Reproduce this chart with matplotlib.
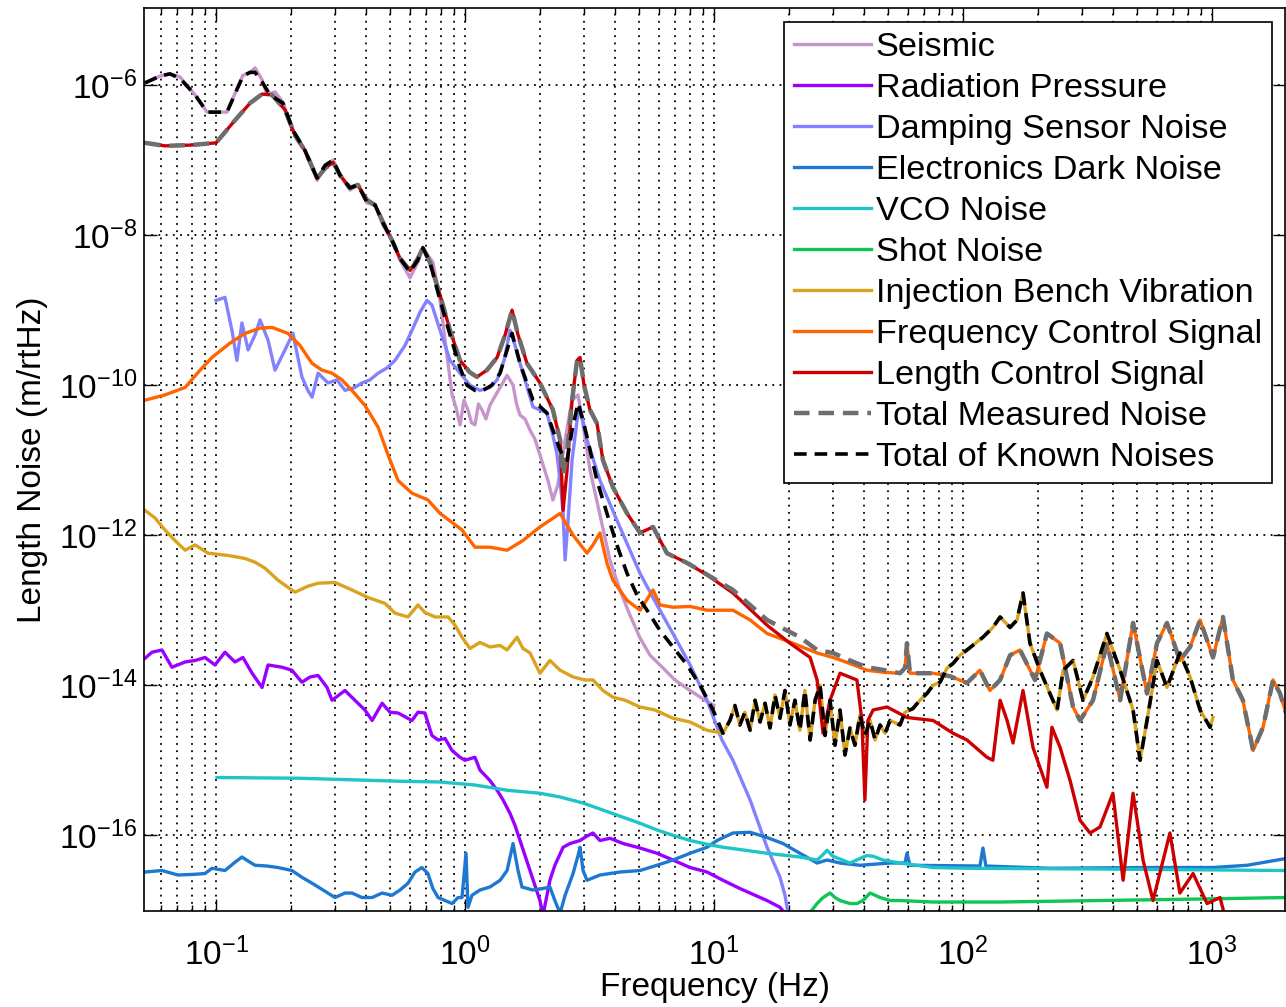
import numpy as np
import matplotlib
matplotlib.use("Agg")
import matplotlib.pyplot as plt
from matplotlib.ticker import NullLocator, LogLocator

plt.rcParams['font.family'] = ['Liberation Sans', 'DejaVu Sans']
plt.rcParams['mathtext.fontset'] = 'custom'
plt.rcParams['mathtext.rm'] = 'Liberation Sans'
plt.rcParams['mathtext.it'] = 'Liberation Sans:italic'
plt.rcParams['mathtext.bf'] = 'Liberation Sans:bold'

# each series: (log10 frequency [Hz], log10 length noise [m/rtHz])
seismic = [(-1.285, -5.97), (-1.225, -5.88), (-1.185, -5.85), (-1.145, -5.89), (-1.084, -6.13),
           (-1.036, -6.36), (-0.956, -6.36), (-0.892, -5.87), (-0.863, -5.83), (-0.843, -5.77),
           (-0.815, -5.93), (-0.795, -6.13), (-0.763, -6.09), (-0.731, -6.23), (-0.691, -6.60),
           (-0.643, -6.87), (-0.594, -7.27), (-0.562, -7.07), (-0.530, -7.00), (-0.502, -7.20),
           (-0.462, -7.40), (-0.430, -7.33), (-0.394, -7.57), (-0.361, -7.60), (-0.329, -7.87),
           (-0.293, -8.07), (-0.261, -8.33), (-0.221, -8.57), (-0.189, -8.36), (-0.169, -8.16),
           (-0.149, -8.27), (-0.129, -8.36), (-0.100, -8.87), (-0.080, -9.40), (-0.052, -10.13),
           (-0.036, -10.30), (-0.020, -10.53), (-0.004, -10.20), (0.012, -10.33), (0.026, -10.50),
           (0.040, -10.53), (0.054, -10.25), (0.068, -10.33), (0.084, -10.45), (0.100, -10.27),
           (0.120, -10.15), (0.141, -10.03), (0.169, -9.87), (0.193, -10.00), (0.207, -10.25),
           (0.221, -10.40), (0.241, -10.45), (0.261, -10.60), (0.281, -10.72), (0.301, -10.93),
           (0.333, -11.27), (0.353, -11.53), (0.373, -11.33), (0.402, -10.73),
           (0.430, -10.20), (0.454, -10.13), (0.474, -10.53), (0.502, -11.13), (0.542, -11.73),
           (0.582, -12.33), (0.622, -12.73), (0.663, -13.07), (0.703, -13.37), (0.743, -13.60),
           (0.783, -13.73), (0.843, -13.93), (0.904, -14.07), (0.964, -14.20), (1.000, -14.27)]

rad_pressure = [(-1.285, -13.64), (-1.257, -13.56), (-1.217, -13.53), (-1.177, -13.76), (-1.124, -13.69),
                (-1.084, -13.67), (-1.044, -13.63), (-1.004, -13.73), (-0.964, -13.56), (-0.924, -13.69),
                (-0.892, -13.63), (-0.855, -13.84), (-0.815, -14.03), (-0.791, -13.73), (-0.735, -13.76),
                (-0.695, -13.80), (-0.655, -13.96), (-0.622, -13.89), (-0.590, -13.87), (-0.554, -14.03),
                (-0.534, -14.20), (-0.482, -14.07), (-0.430, -14.24), (-0.402, -14.33), (-0.373, -14.47),
                (-0.333, -14.24), (-0.301, -14.36), (-0.269, -14.37), (-0.213, -14.47), (-0.189, -14.36),
                (-0.161, -14.37), (-0.133, -14.67), (-0.108, -14.73), (-0.080, -14.71), (-0.052, -14.87),
                (-0.020, -14.96), (0.000, -15.00), (0.040, -14.96), (0.060, -15.13), (0.100, -15.27),
                (0.129, -15.40), (0.153, -15.53), (0.181, -15.71), (0.201, -15.87), (0.221, -16.07),
                (0.241, -16.27), (0.261, -16.47), (0.281, -16.67), (0.301, -16.87), (0.313, -17.07),
                (0.325, -16.87), (0.341, -16.60), (0.361, -16.40), (0.394, -16.16), (0.422, -16.11),
                (0.462, -16.07), (0.490, -16.01), (0.514, -15.97), (0.542, -16.07), (0.582, -16.04),
                (0.635, -16.11), (0.703, -16.17), (0.771, -16.24), (0.835, -16.33), (0.904, -16.43),
                (0.972, -16.49), (1.036, -16.60), (1.104, -16.71), (1.165, -16.80), (1.213, -16.87),
                (1.265, -16.96), (1.285, -17.04)]

damping = [(-1.000, -8.87), (-0.964, -8.83), (-0.936, -9.27), (-0.916, -9.67), (-0.896, -9.17),
           (-0.871, -9.53), (-0.843, -9.33), (-0.823, -9.13), (-0.791, -9.40), (-0.763, -9.80),
           (-0.723, -9.53), (-0.691, -9.31), (-0.655, -9.89), (-0.631, -10.07), (-0.614, -10.16),
           (-0.590, -9.84), (-0.550, -9.97), (-0.514, -9.93), (-0.482, -10.07), (-0.442, -10.03),
           (-0.414, -9.97), (-0.382, -9.93), (-0.349, -9.84), (-0.313, -9.77), (-0.281, -9.67),
           (-0.241, -9.47), (-0.213, -9.27), (-0.181, -9.03), (-0.153, -8.87), (-0.133, -8.93),
           (-0.100, -9.27), (-0.060, -9.67), (-0.020, -9.84), (0.020, -10.00), (0.060, -10.07),
           (0.100, -10.03), (0.129, -9.93), (0.157, -9.67), (0.181, -9.27), (0.201, -9.47),
           (0.221, -9.71), (0.273, -10.29), (0.329, -10.37), (0.353, -10.67), (0.369, -10.91),
           (0.382, -11.27), (0.394, -11.71), (0.402, -12.33), (0.414, -11.80), (0.430, -11.00),
           (0.450, -10.47), (0.462, -10.29), (0.490, -10.73), (0.542, -11.27), (0.610, -11.80),
           (0.703, -12.51), (0.771, -12.93), (0.835, -13.31), (0.904, -13.73), (0.972, -14.20),
           (1.032, -14.73), (1.076, -15.00), (1.145, -15.53), (1.213, -16.16), (1.265, -16.56),
           (1.285, -16.80), (1.297, -17.03)]

electronics = [(-1.285, -16.49), (-1.217, -16.47), (-1.153, -16.53), (-1.084, -16.52), (-1.044, -16.51),
               (-1.016, -16.44), (-0.964, -16.47), (-0.924, -16.36), (-0.896, -16.29), (-0.863, -16.36),
               (-0.843, -16.40), (-0.795, -16.41), (-0.751, -16.43), (-0.695, -16.47), (-0.655, -16.56),
               (-0.614, -16.64), (-0.570, -16.73), (-0.522, -16.83), (-0.482, -16.77), (-0.454, -16.77),
               (-0.414, -16.83), (-0.373, -16.83), (-0.333, -16.77), (-0.293, -16.80), (-0.261, -16.73),
               (-0.229, -16.64), (-0.201, -16.49), (-0.173, -16.43), (-0.149, -16.51), (-0.129, -16.71),
               (-0.108, -16.83), (-0.080, -16.87), (-0.052, -16.91), (-0.028, -16.83), (-0.012, -16.83),
               (0.004, -16.24), (0.012, -16.96), (0.028, -16.80), (0.060, -16.73), (0.100, -16.69),
               (0.141, -16.60), (0.169, -16.47), (0.193, -16.11), (0.213, -16.47), (0.229, -16.69),
               (0.273, -16.73), (0.313, -16.71), (0.341, -16.69), (0.361, -16.87), (0.382, -17.04),
               (0.402, -16.80), (0.434, -16.51), (0.454, -16.27), (0.462, -16.16), (0.474, -16.47),
               (0.490, -16.60), (0.542, -16.53), (0.622, -16.49), (0.703, -16.47), (0.771, -16.40),
               (0.835, -16.33), (0.904, -16.24), (0.972, -16.16), (1.012, -16.07), (1.076, -15.97),
               (1.145, -15.96), (1.213, -16.03), (1.277, -16.11), (1.345, -16.24), (1.414, -16.37),
               (1.454, -16.33), (1.506, -16.37), (1.586, -16.40), (1.707, -16.37), (1.767, -16.37),
               (1.775, -16.24), (1.787, -16.40), (2.068, -16.41), (2.080, -16.17), (2.092, -16.41),
               (2.349, -16.44), (2.751, -16.43), (3.004, -16.43), (3.141, -16.40), (3.297, -16.31)]

vco = [(-0.996, -15.23), (-0.663, -15.24), (-0.261, -15.28), (-0.100, -15.29), (0.040, -15.33),
       (0.169, -15.40), (0.301, -15.44), (0.382, -15.49), (0.474, -15.57), (0.542, -15.65),
       (0.635, -15.76), (0.703, -15.84), (0.771, -15.93), (0.835, -16.00), (0.904, -16.07),
       (0.972, -16.12), (1.036, -16.16), (1.104, -16.19), (1.213, -16.24), (1.345, -16.29),
       (1.414, -16.33), (1.434, -16.27), (1.454, -16.20), (1.478, -16.28), (1.546, -16.37),
       (1.586, -16.31), (1.614, -16.27), (1.639, -16.28), (1.679, -16.33), (1.747, -16.37),
       (1.880, -16.43), (2.016, -16.44), (2.550, -16.45), (3.297, -16.47)]

shot = [(1.386, -17.03), (1.414, -16.91), (1.438, -16.83), (1.466, -16.77), (1.486, -16.83),
        (1.506, -16.87), (1.546, -16.91), (1.574, -16.91), (1.598, -16.87), (1.627, -16.77),
        (1.647, -16.80), (1.667, -16.83), (1.707, -16.87), (1.747, -16.87), (1.880, -16.89),
        (2.149, -16.89), (2.550, -16.87), (2.952, -16.85), (3.297, -16.83)]

ibv_low = [(-1.285, -11.67), (-1.245, -11.77), (-1.205, -11.93), (-1.165, -12.07), (-1.124, -12.20),
           (-1.084, -12.13), (-1.032, -12.24), (-0.952, -12.27), (-0.884, -12.31), (-0.843, -12.36),
           (-0.803, -12.44), (-0.751, -12.60), (-0.683, -12.76), (-0.631, -12.68), (-0.590, -12.64),
           (-0.522, -12.63), (-0.454, -12.73), (-0.390, -12.83), (-0.321, -12.91), (-0.281, -13.04),
           (-0.229, -13.09), (-0.189, -12.93), (-0.161, -13.03), (-0.120, -13.09), (-0.068, -13.09),
           (-0.040, -13.20), (-0.012, -13.36), (0.020, -13.51), (0.060, -13.43), (0.100, -13.49),
           (0.141, -13.47), (0.169, -13.53), (0.209, -13.36), (0.233, -13.51), (0.261, -13.57),
           (0.301, -13.84), (0.341, -13.67), (0.382, -13.80), (0.434, -13.89), (0.482, -13.93),
           (0.514, -13.93), (0.554, -14.07), (0.594, -14.16), (0.643, -14.20), (0.703, -14.29),
           (0.763, -14.33), (0.835, -14.44), (0.904, -14.49), (0.972, -14.60), (1.036, -14.64)]

ibv_high = [(1.064, -14.47), (1.084, -14.27), (1.104, -14.53), (1.124, -14.36), (1.145, -14.60),
            (1.165, -14.20), (1.185, -14.49), (1.205, -14.24), (1.225, -14.57), (1.245, -14.13),
            (1.265, -14.44), (1.285, -14.07), (1.305, -14.53), (1.325, -14.20), (1.345, -14.60),
            (1.365, -14.07), (1.386, -14.73), (1.406, -14.20), (1.426, -14.00), (1.446, -14.67),
            (1.466, -14.20), (1.486, -14.80), (1.506, -14.33), (1.526, -14.93), (1.546, -14.57),
            (1.566, -14.80), (1.586, -14.40), (1.606, -14.67), (1.627, -14.47), (1.647, -14.73),
            (1.667, -14.53), (1.687, -14.64), (1.707, -14.47), (1.747, -14.53), (1.767, -14.36),
            (1.799, -14.31), (1.827, -14.20), (1.855, -14.11), (1.880, -14.00), (1.908, -13.96),
            (1.936, -13.77), (1.960, -13.71), (1.988, -13.60), (2.016, -13.53), (2.080, -13.36),
            (2.120, -13.23), (2.149, -13.09), (2.189, -13.23), (2.217, -13.13), (2.241, -12.77),
            (2.269, -13.44), (2.309, -13.80), (2.349, -14.11), (2.378, -14.33), (2.402, -13.80),
            (2.442, -13.67), (2.482, -14.20), (2.522, -13.89), (2.578, -13.31), (2.631, -13.80),
            (2.683, -14.33), (2.711, -15.00), (2.739, -14.47), (2.779, -13.67), (2.819, -14.03),
            (2.871, -13.57), (2.912, -13.89), (2.952, -14.33), (2.992, -14.56), (3.004, -14.43)]

freq_ctrl_low = [(-1.285, -10.20), (-1.205, -10.13), (-1.124, -10.03), (-1.064, -9.80), (-1.016, -9.63),
                 (-0.944, -9.44), (-0.884, -9.31), (-0.823, -9.24), (-0.775, -9.23), (-0.711, -9.31),
                 (-0.663, -9.47), (-0.614, -9.71), (-0.574, -9.80), (-0.534, -9.84), (-0.494, -9.93),
                 (-0.454, -10.07), (-0.402, -10.27), (-0.349, -10.56), (-0.309, -10.93), (-0.269, -11.27),
                 (-0.213, -11.44), (-0.149, -11.53), (-0.100, -11.71), (-0.012, -11.93), (0.040, -12.16),
                 (0.100, -12.16), (0.169, -12.20), (0.233, -12.07), (0.301, -11.89), (0.382, -11.71),
                 (0.434, -12.00), (0.490, -12.24), (0.514, -12.13), (0.542, -11.97), (0.570, -12.37),
                 (0.594, -12.60), (0.651, -12.87), (0.703, -13.00), (0.755, -12.73), (0.783, -12.93),
                 (0.835, -12.96), (0.904, -12.95), (0.972, -13.00), (1.076, -13.00), (1.145, -13.13),
                 (1.213, -13.31), (1.317, -13.44), (1.414, -13.57), (1.478, -13.63), (1.546, -13.71),
                 (1.614, -13.80), (1.687, -13.83), (1.747, -13.84), (1.767, -13.77), (1.775, -13.44),
                 (1.787, -13.84)]

measured_high = [(1.880, -13.84), (1.948, -13.88), (2.016, -13.97), (2.068, -13.80), (2.108, -14.07),
                 (2.149, -13.93), (2.189, -13.60), (2.229, -13.53), (2.289, -13.93), (2.337, -13.31),
                 (2.390, -13.44), (2.442, -14.29), (2.470, -14.47), (2.522, -14.20), (2.578, -13.44),
                 (2.631, -14.20), (2.683, -13.17), (2.739, -14.11), (2.779, -13.44), (2.819, -13.17),
                 (2.871, -13.67), (2.912, -13.49), (2.952, -13.13), (3.004, -13.63), (3.044, -13.09),
                 (3.084, -13.93), (3.124, -14.20), (3.165, -14.87), (3.205, -14.56), (3.245, -13.93),
                 (3.273, -14.11), (3.297, -14.37)]

length_ctrl = [(-1.285, -6.77), (-1.205, -6.81), (-1.104, -6.80), (-1.000, -6.77), (-0.924, -6.47),
               (-0.863, -6.24), (-0.815, -6.12), (-0.775, -6.13), (-0.723, -6.33), (-0.683, -6.67),
               (-0.643, -6.87), (-0.594, -7.24), (-0.562, -7.11), (-0.530, -7.03), (-0.502, -7.20),
               (-0.462, -7.37), (-0.430, -7.33), (-0.394, -7.53), (-0.361, -7.60), (-0.329, -7.83),
               (-0.293, -8.07), (-0.261, -8.31), (-0.221, -8.47), (-0.189, -8.31), (-0.169, -8.17),
               (-0.141, -8.36), (-0.100, -8.80), (-0.060, -9.27), (-0.020, -9.67), (0.020, -9.83),
               (0.048, -9.89), (0.088, -9.80), (0.129, -9.63), (0.161, -9.33), (0.189, -9.00),
               (0.213, -9.33), (0.249, -9.71), (0.301, -9.97), (0.353, -10.33), (0.382, -10.73),
               (0.394, -11.67), (0.410, -11.13), (0.430, -10.20), (0.450, -9.67), (0.462, -9.63),
               (0.478, -10.00), (0.502, -10.33), (0.530, -10.51), (0.554, -11.00), (0.594, -11.36),
               (0.651, -11.71), (0.703, -11.97), (0.755, -11.89), (0.811, -12.24), (0.892, -12.37),
               (0.972, -12.53), (1.076, -12.77), (1.213, -13.20), (1.305, -13.44), (1.386, -13.63),
               (1.414, -13.93), (1.438, -14.64), (1.466, -14.20), (1.506, -13.84), (1.574, -13.93),
               (1.594, -14.47), (1.606, -15.53), (1.618, -14.47), (1.639, -14.33), (1.695, -14.29),
               (1.775, -14.43), (1.880, -14.47), (1.960, -14.64), (2.016, -14.73), (2.096, -14.96),
               (2.120, -15.00), (2.149, -14.20), (2.177, -14.47), (2.201, -14.77), (2.241, -14.07),
               (2.281, -14.83), (2.337, -15.36), (2.357, -14.56), (2.390, -14.83), (2.430, -15.27),
               (2.470, -15.80), (2.510, -15.97), (2.550, -15.89), (2.602, -15.44), (2.643, -16.60),
               (2.683, -15.44), (2.723, -16.33), (2.763, -16.87), (2.831, -15.97), (2.871, -16.77),
               (2.924, -16.51), (2.980, -16.91), (3.032, -16.83), (3.056, -17.13)]

measured_low = [(-1.285, -6.77), (-1.205, -6.81), (-1.104, -6.80), (-1.000, -6.77), (-0.924, -6.47),
                (-0.863, -6.24), (-0.815, -6.12), (-0.775, -6.13), (-0.723, -6.33), (-0.683, -6.67),
                (-0.643, -6.87), (-0.594, -7.24), (-0.562, -7.11), (-0.530, -7.03), (-0.502, -7.20),
                (-0.462, -7.37), (-0.430, -7.33), (-0.394, -7.53), (-0.361, -7.60), (-0.329, -7.83),
                (-0.293, -8.07), (-0.261, -8.31), (-0.221, -8.47), (-0.189, -8.31), (-0.169, -8.17),
                (-0.141, -8.36), (-0.100, -8.80), (-0.060, -9.27), (-0.020, -9.67), (0.020, -9.83),
                (0.048, -9.89), (0.088, -9.80), (0.129, -9.63), (0.161, -9.33), (0.189, -9.00),
                (0.213, -9.33), (0.249, -9.71), (0.301, -9.97), (0.353, -10.33), (0.382, -10.73),
                (0.394, -11.20), (0.410, -10.90), (0.430, -10.20), (0.450, -9.67), (0.462, -9.63),
                (0.478, -10.00), (0.502, -10.33), (0.530, -10.51), (0.554, -11.00), (0.594, -11.36),
                (0.651, -11.71), (0.703, -11.97), (0.755, -11.89), (0.811, -12.24), (0.892, -12.37),
                (0.944, -12.47), (1.076, -12.73), (1.213, -13.13), (1.345, -13.36), (1.414, -13.53),
                (1.478, -13.57), (1.546, -13.67), (1.614, -13.76), (1.687, -13.80), (1.747, -13.84),
                (1.767, -13.77), (1.775, -13.44), (1.787, -13.84)]

known_low = [(-1.285, -5.97), (-1.225, -5.88), (-1.185, -5.85), (-1.145, -5.91), (-1.084, -6.13),
             (-1.036, -6.36), (-0.956, -6.36), (-0.892, -5.88), (-0.863, -5.83), (-0.843, -5.83),
             (-0.815, -5.96), (-0.783, -6.13), (-0.731, -6.24), (-0.691, -6.60), (-0.643, -6.87),
             (-0.594, -7.24), (-0.562, -7.07), (-0.530, -7.00), (-0.502, -7.20), (-0.462, -7.37),
             (-0.430, -7.33), (-0.394, -7.56), (-0.361, -7.60), (-0.329, -7.84), (-0.293, -8.07),
             (-0.261, -8.31), (-0.221, -8.49), (-0.189, -8.33), (-0.169, -8.17), (-0.141, -8.36),
             (-0.100, -8.87), (-0.060, -9.33), (-0.020, -9.77), (0.008, -10.00), (0.040, -10.07),
             (0.072, -10.07), (0.108, -10.00), (0.141, -9.84), (0.169, -9.53), (0.189, -9.31),
             (0.221, -9.71), (0.273, -10.20), (0.329, -10.37), (0.353, -10.60), (0.382, -10.87),
             (0.410, -11.00), (0.430, -10.60), (0.454, -10.24), (0.474, -10.47), (0.490, -10.69),
             (0.530, -11.27), (0.570, -11.71), (0.610, -12.13), (0.651, -12.51), (0.691, -12.80),
             (0.731, -13.00), (0.783, -13.27), (0.835, -13.49), (0.892, -13.73), (0.944, -14.00),
             (0.996, -14.33), (1.036, -14.64)]

labels = ["Seismic", "Radiation Pressure", "Damping Sensor Noise", "Electronics Dark Noise",
          "VCO Noise", "Shot Noise", "Injection Bench Vibration", "Frequency Control Signal",
          "Length Control Signal", "Total Measured Noise", "Total of Known Noises"]


def unlog(pairs):
    a = np.array(pairs)
    return 10 ** a[:, 0], 10 ** a[:, 1]


series = [seismic, rad_pressure, damping, electronics, vco, shot,
          ibv_low + ibv_high, freq_ctrl_low + measured_high, length_ctrl,
          measured_low + measured_high, known_low + ibv_high]
colors = ['#C894CC', '#9900FF', '#8282FF', '#1E78D2', '#1EC4C8', '#10C456',
          '#D9A21F', '#FF6400', '#CC0000', '#6E6E6E', '#000000']

fig = plt.figure(figsize=(12.86, 10.07), dpi=100)
ax = fig.add_axes([0.112, 0.0953, 0.8872, 0.8967])

for pairs, col, lab in zip(series, colors, labels):
    f, a = unlog(pairs)
    if lab == "Total Measured Noise":
        ax.plot(f, a, color=col, lw=3.2, ls=(0, (3.5, 2)), label=lab)
    elif lab == "Total of Known Noises":
        ax.plot(f, a, color=col, lw=2.6, ls=(0, (3.5, 2.2)), label=lab)
    else:
        ax.plot(f, a, color=col, lw=2.4, label=lab)

ax.set_xscale('log')
ax.set_yscale('log')
ax.set_xlim(10 ** -1.289, 10 ** 3.293)
ax.set_ylim(10 ** -17.01, 10 ** -4.973)
ax.set_yticks([1e-16, 1e-14, 1e-12, 1e-10, 1e-8, 1e-6])
ax.yaxis.set_minor_locator(NullLocator())
ax.xaxis.set_major_locator(LogLocator(base=10))
ax.xaxis.set_minor_locator(LogLocator(base=10, subs=np.arange(2, 10)))

ax.grid(True, which='both', axis='x', color='k', ls=(0, (1, 3)), lw=1.3)
ax.grid(True, which='major', axis='y', color='k', ls=(0, (1, 3)), lw=1.3)

ax.tick_params(which='both', direction='in', top=True, right=True, labelsize=24, width=1.0)
ax.tick_params(which='major', length=9)
ax.tick_params(which='minor', length=4.5)
ax.tick_params(axis='x', which='major', pad=19)
ax.tick_params(axis='y', which='major', pad=5)
for s in ax.spines.values():
    s.set_linewidth(1.2)

ax.set_xlabel("Frequency (Hz)", fontsize=24, labelpad=0)
ax.set_ylabel("Length Noise (m/rtHz)", fontsize=24, labelpad=8)

leg = ax.legend(loc='upper right', bbox_to_anchor=(0.9886, 0.9845), borderaxespad=0,
                fontsize=24.7, handlelength=2.25, handletextpad=0.12, labelspacing=0.29,
                borderpad=0.3, fancybox=False, framealpha=1, edgecolor='k')
leg.get_frame().set_linewidth(1.2)

fig.savefig("out.png", dpi=100)
